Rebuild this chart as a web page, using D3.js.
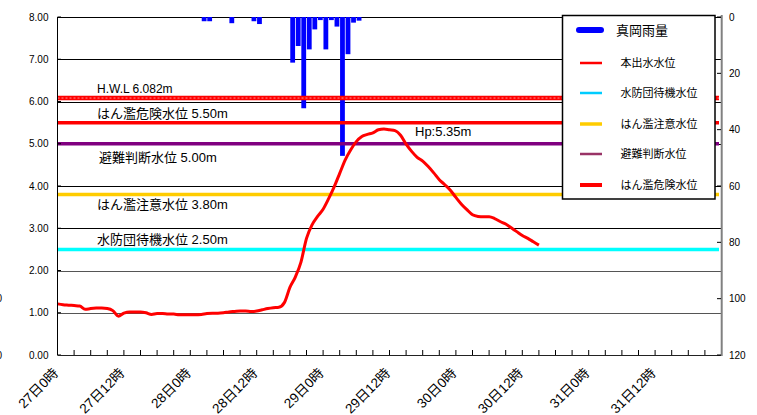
<!DOCTYPE html>
<html><head><meta charset="utf-8">
<script src="https://cdn.jsdelivr.net/npm/d3@7/dist/d3.min.js"></script>
<style>
html,body{margin:0;padding:0;background:#fff;}
svg{display:block;}
text{font-family:"Liberation Sans","Noto Sans CJK JP",sans-serif;}
</style></head>
<body>
<svg id="c" width="757" height="415"></svg>
<script>
// ---- data ----
// hourly water level (m), hour 0 = 27日0時
const levelValues = [1.21,1.19,1.18,1.17,1.16,1.08,1.10,1.11,1.11,1.10,
  1.05,0.92,0.99,1.02,1.02,1.02,1.00,0.96,0.98,0.98,
  0.97,0.97,0.95,0.95,0.95,0.95,0.96,0.98,0.99,0.99,
  1.00,1.02,1.03,1.04,1.04,1.03,1.04,1.07,1.10,1.12,
  1.13,1.24,1.60,1.85,2.20,2.76,3.08,3.28,3.45,3.70,
  3.98,4.30,4.62,4.86,5.05,5.17,5.22,5.26,5.33,5.35,
  5.33,5.31,5.20,4.99,4.82,4.68,4.59,4.46,4.31,4.15,
  4.03,3.90,3.73,3.57,3.44,3.32,3.28,3.27,3.27,3.23,
  3.16,3.10,3.01,2.92,2.83,2.76,2.68,2.60];
// hourly rainfall (mm): end hour of each hourly total
const rainHours = [27,28,32,36,37,43,44,45,46,47,48,49,50,51,52,53,54,55];
const rainValues = [1.5,1.5,2.2,1.5,2.5,16.2,10.3,32.4,11.5,4.4,1.1,11.5,1.1,3.4,49.3,13.2,2.0,1.3];
const xTickLabels = ["27日0時","27日12時","28日0時","28日12時","29日0時","29日12時","30日0時","30日12時","31日0時","31日12時"];
const xTickHours = [0,12,24,36,48,60,72,84,96,108];
const leftTicks = [0,1,2,3,4,5,6,7,8];
const rightTicks = [0,20,40,60,80,100,120];
const refNames = ["H.W.L 6.082m","はん濫危険水位 5.50m","避難判断水位 5.00m","はん濫注意水位 3.80m","水防団待機水位 2.50m"];
const refValues = [6.082,5.50,5.00,3.80,2.50];
const refColors = ["#ff0000","#ff0000","#800080","#ffcc00","#00ffff"];
const legendNames = ["真岡雨量","本出水水位","水防団待機水位","はん濫注意水位","避難判断水位","はん濫危険水位"];
const legendColors = ["#0000ff","#ff0000","#00ccff","#ffcc00","#993366","#ff0000"];
const peakLabel = "Hp:5.35m";

// ---- scales ----
const svg = d3.select("#c");
const x = d3.scaleLinear().domain([0,120]).range([57.5,721.5]);
const yL = d3.scaleLinear().domain([0,8]).range([355,17]);
const yR = d3.scaleLinear().domain([0,120]).range([17,355]);

// gridlines
svg.append("g").selectAll("line").data(leftTicks.filter(d=>d>0)).join("line")
  .attr("x1",x(0)).attr("x2",x(120))
  .attr("y1",d=>Math.round(yL(d))+0.5).attr("y2",d=>Math.round(yL(d))+0.5)
  .attr("stroke",d=>d<=2?"#555":"#000").attr("stroke-width",1);

// rain bars (from top)
const bw = 4.8;
svg.append("g").selectAll("rect").data(rainHours).join("rect")
  .attr("x",(d)=>x(d-0.5)-bw/2)
  .attr("y",yR(0))
  .attr("width",bw)
  .attr("height",(d,i)=>yR(rainValues[i])-yR(0))
  .attr("fill","#0000ff");

// reference lines
const refW = [4.5,3.5,3.5,3.5,3.5];
svg.append("g").selectAll("line").data(refValues).join("line")
  .attr("x1",x(0)).attr("x2",719)
  .attr("y1",d=>yL(d)).attr("y2",d=>yL(d))
  .attr("stroke",(d,i)=>refColors[i]).attr("stroke-width",(d,i)=>refW[i]);
svg.append("line").attr("x1",x(0)).attr("x2",719).attr("y1",yL(refValues[0])).attr("y2",yL(refValues[0]))
  .attr("stroke","#ff9090").attr("stroke-width",1).attr("stroke-dasharray","2,2");

// ref labels
const refLabelPos = [[97,93],[97,118],[99,162],[97,209],[97,244]];
const refSize = [12,13,13,13,13];
svg.append("g").selectAll("text").data(refNames).join("text")
  .attr("x",(d,i)=>refLabelPos[i][0]).attr("y",(d,i)=>refLabelPos[i][1])
  .attr("font-size",(d,i)=>refSize[i]).attr("fill","#000").text(d=>d);

// water level line
const line = d3.line().x((d,i)=>x(i)).y(d=>yL(d)).curve(d3.curveMonotoneX);
svg.append("path").datum(levelValues).attr("d",line)
  .attr("fill","none").attr("stroke","#ff0000").attr("stroke-width",3).attr("stroke-linejoin","round");

svg.append("text").attr("x",415).attr("y",136).attr("font-size",13).text(peakLabel);

// left axis
svg.append("line").attr("x1",57.5).attr("x2",57.5).attr("y1",17).attr("y2",355).attr("stroke","#000");
svg.append("g").selectAll("line").data(leftTicks).join("line")
  .attr("x1",57.5).attr("x2",61).attr("y1",d=>yL(d)).attr("y2",d=>yL(d)).attr("stroke","#000");
svg.append("g").selectAll("text").data(leftTicks).join("text")
  .attr("x",48.5).attr("y",d=>yL(d)+3.5).attr("text-anchor","end").attr("font-size",10)
  .text(d=>d3.format(".2f")(d));

// bottom axis
svg.append("line").attr("x1",57.5).attr("x2",721.5).attr("y1",355.5).attr("y2",355.5).attr("stroke","#222");
const minorTicks = d3.range(0,121,3);
svg.append("g").selectAll("line").data(minorTicks).join("line")
  .attr("x1",d=>x(d)).attr("x2",d=>x(d)).attr("y1",350).attr("y2",355).attr("stroke","#000");
svg.append("g").selectAll("text").data(xTickLabels).join("text")
  .attr("transform",(d,i)=>`translate(${x(xTickHours[i])+1.5},${374}) rotate(-45)`)
  .attr("text-anchor","end").attr("font-size",13.5).text(d=>d);

// right axis
svg.append("line").attr("x1",721.7).attr("x2",721.7).attr("y1",15).attr("y2",356).attr("stroke","#808080").attr("stroke-width",2);
svg.append("g").selectAll("line").data(rightTicks).join("line")
  .attr("x1",717).attr("x2",721).attr("y1",d=>yR(d)).attr("y2",d=>yR(d)).attr("stroke","#000");
svg.append("g").selectAll("text").data(rightTicks).join("text")
  .attr("x",729).attr("y",d=>yR(d)+3.5).attr("font-size",10).text(d=>d);

// partially visible labels at the left edge (cut off as in the source)
svg.append("g").selectAll("text").data([298,355]).join("text")
  .attr("x",2).attr("y",d=>d+3.5).attr("text-anchor","end").attr("font-size",10).text("0");

// legend
const lg = svg.append("g");
lg.append("rect").attr("x",562.5).attr("y",15.5).attr("width",152.5).attr("height",183.5)
  .attr("fill","#fff").attr("stroke","#000").attr("stroke-width",1.5);
const lgY = [30,63,93,124,154,185];
const lgW = [6,2.5,2.5,3.5,2.5,4];
lg.selectAll("line").data(legendNames).join("line")
  .attr("x1",(d,i)=>i===0?579:580).attr("x2",(d,i)=>i===0?601:602)
  .attr("y1",(d,i)=>lgY[i]).attr("y2",(d,i)=>lgY[i])
  .attr("stroke",(d,i)=>legendColors[i]).attr("stroke-width",(d,i)=>lgW[i])
  .attr("stroke-linecap",(d,i)=>i===0?"round":"butt");
lg.selectAll("text").data(legendNames).join("text")
  .attr("x",(d,i)=>i===0?616:620.5).attr("y",(d,i)=>lgY[i]+(i===0?4.5:4))
  .attr("font-size",(d,i)=>i===0?13:11).text(d=>d);
</script>
</body></html>
